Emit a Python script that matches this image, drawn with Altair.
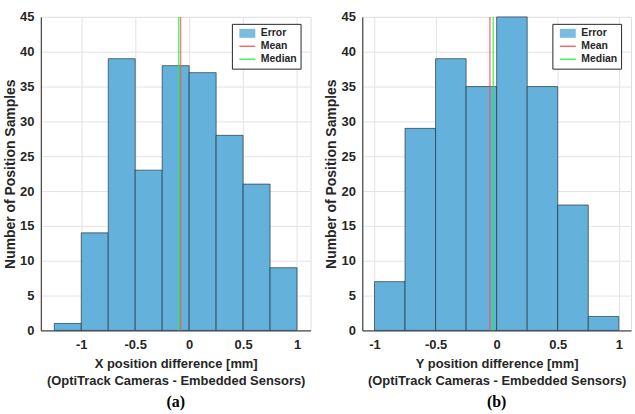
import altair as alt
import pandas as pd

# Panel (a): X position difference
x_bin_start = [-1.25, -1.0, -0.75, -0.5, -0.25, 0.0, 0.25, 0.5, 0.75]
x_bin_end = [-1.0, -0.75, -0.5, -0.25, 0.0, 0.25, 0.5, 0.75, 1.0]
x_counts = [1, 14, 39, 23, 38, 37, 28, 21, 9]
x_mean = -0.08
x_median = -0.098

# Panel (b): Y position difference
y_bin_start = [-1.0, -0.75, -0.5, -0.25, 0.0, 0.25, 0.5, 0.75]
y_bin_end = [-0.75, -0.5, -0.25, 0.0, 0.25, 0.5, 0.75, 1.0]
y_counts = [7, 29, 39, 35, 45, 35, 18, 2]
y_mean = -0.055
y_median = -0.028

series_names = ["Error", "Mean", "Median"]
series_colors = ["#64B1DC", "#FF5050", "#20F050"]
series_widths = [9, 1.5, 1.5]
y_ticks = [0, 5, 10, 15, 20, 25, 30, 35, 40, 45]
x_ticks = [-1, -0.5, 0, 0.5, 1]

FONT = "Liberation Sans"
TXT = "#262626"


def panel(starts, ends, counts, mean, median, xdomain, xtitle, label, width, legx):
    bars_df = pd.DataFrame({"start": starts, "end": ends, "count": counts,
                            "series": ["Error"] * len(counts)})
    lines_df = pd.DataFrame({"x": [mean, median], "series": ["Mean", "Median"]})
    cscale = alt.Scale(domain=series_names, range=series_colors)
    wscale = alt.Scale(type="ordinal", domain=series_names, range=series_widths)
    legend = alt.Legend(
        title=None, orient="none", legendX=legx, legendY=7,
        fillColor="white", strokeColor="#262626", padding=3,
        labelFont=FONT, labelFontSize=10.5, labelFontWeight="bold", labelColor=TXT,
        symbolType="stroke", symbolSize=256, rowPadding=0, labelOffset=1,
        cornerRadius=0, symbolOpacity=0.85, clipHeight=13,
    )
    xaxis = alt.Axis(title=xtitle, values=x_ticks, labelExpr="datum.value + ''",
                     ticks=False, labelPadding=8, titlePadding=6, titleLineHeight=17,
                     labelFont=FONT, labelFontSize=13, labelFontWeight="bold",
                     labelColor=TXT, titleFont=FONT, titleFontSize=13,
                     titleFontWeight="bold", titleColor=TXT, gridColor="#E3E3E3",
                     domainColor=TXT)
    yaxis = alt.Axis(title="Number of Position Samples", values=y_ticks,
                     ticks=False, labelPadding=7, titlePadding=2,
                     labelFont=FONT, labelFontSize=13, labelFontWeight="bold",
                     labelColor=TXT, titleFont=FONT, titleFontSize=14,
                     titleFontWeight="bold", titleColor=TXT, gridColor="#E3E3E3",
                     domainColor=TXT)
    bars = alt.Chart(bars_df).mark_bar(stroke="#22323c", strokeWidth=0.8,
                                       strokeOpacity=0.85, opacity=1).encode(
        x=alt.X("start:Q", scale=alt.Scale(domain=xdomain, nice=False, zero=False),
                axis=xaxis),
        x2="end:Q",
        y=alt.Y("count:Q", scale=alt.Scale(domain=[0, 45], nice=False), axis=yaxis),
        y2=alt.datum(0),
        color=alt.Color("series:N", scale=cscale, legend=legend),
    )
    rules = alt.Chart(lines_df).mark_rule(opacity=0.75).encode(
        x=alt.X("x:Q"),
        color=alt.Color("series:N", scale=cscale, legend=legend),
        strokeWidth=alt.StrokeWidth("series:N", scale=wscale, legend=legend),
    )
    return alt.layer(bars, rules).properties(
        width=width, height=315,
        title=alt.TitleParams(label, orient="bottom", font="Liberation Serif",
                              fontSize=16, fontWeight="bold", color="#000000",
                              offset=7),
    )


left = panel(x_bin_start, x_bin_end, x_counts, x_mean, x_median, [-1.375, 1.125],
             ["X position difference [mm]", "(OptiTrack Cameras - Embedded Sensors)"],
             "(a)", 271, 192)
right = panel(y_bin_start, y_bin_end, y_counts, y_mean, y_median, [-1.1, 1.1],
              ["Y position difference [mm]", "(OptiTrack Cameras - Embedded Sensors)"],
              "(b)", 270, 191)

chart = alt.hconcat(left, right, spacing=13).resolve_scale(
    color="independent", strokeWidth="independent"
).resolve_legend(
    color="independent", strokeWidth="independent"
).properties(
    padding={"left": 3, "top": 9, "right": 3, "bottom": 0}
).configure_view(
    stroke=TXT, strokeWidth=1,
).configure(background="white")

chart.save("out.html", embed_options={"renderer": "svg", "actions": False})
